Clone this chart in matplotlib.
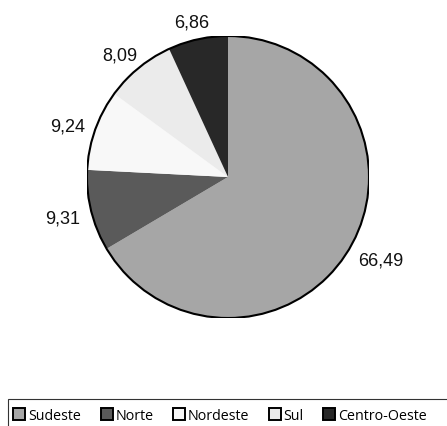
import numpy as np
import matplotlib
matplotlib.use("Agg")
import matplotlib.pyplot as plt
from matplotlib.patches import Rectangle
from matplotlib.lines import Line2D

regions = ["Sudeste", "Norte", "Nordeste", "Sul", "Centro-Oeste"]
values = [66.49, 9.31, 9.24, 8.09, 6.86]
colors = ["#a6a6a6", "#5a5a5a", "#f8f8f8", "#ebebeb", "#282828"]
value_labels = ["66,49", "9,31", "9,24", "8,09", "6,86"]

W, H = 447, 427
fig = plt.figure(figsize=(W / 100, H / 100), dpi=100)

cx, cy, r = 228, 178, 141
ax = fig.add_axes([(cx - r) / W, (H - cy - r) / H, 2 * r / W, 2 * r / H])
wedges, _ = ax.pie(values, colors=colors, startangle=90, counterclock=False,
                   radius=1, wedgeprops=dict(linewidth=0))
circle = plt.Circle((0, 0), 1, fill=False, edgecolor="black", linewidth=1.5)
ax.add_patch(circle)
ax.set_xlim(-1, 1)
ax.set_ylim(-1, 1)
ax.set_aspect("equal")
ax.axis("off")

# data labels placed just outside the wedge, Excel-style
renderer = fig.canvas.get_renderer()
gap = 0.085
for w, lab in zip(wedges, value_labels):
    ang = np.deg2rad((w.theta1 + w.theta2) / 2)
    ux, uy = np.cos(ang), np.sin(ang)
    t = ax.text(0, 0, lab, ha="center", va="center", fontsize=13,
                family="Liberation Sans", color="#111111")
    bb = t.get_window_extent(renderer)
    tw, th = bb.width / r, bb.height / r
    t.set_position(((1 + gap) * ux + tw / 2 * ux, (1 + gap) * uy + th / 2 * uy - 0.02))

# legend frame (extends past the figure edge)
fig.patches.append(Rectangle((8 / W, -0.1), 1.0, (H - 400) / H + 0.1,
                             transform=fig.transFigure, fill=False,
                             edgecolor="#333333", linewidth=0.8))

handles = [Line2D([0], [0], marker="s", linestyle="none", markersize=9.2,
                  markerfacecolor=c, markeredgecolor="black", markeredgewidth=1.4)
           for c in colors]
leg = fig.legend(handles, regions, loc="center left",
                 bbox_to_anchor=(13 / W, (H - 417) / H), ncol=5, frameon=False,
                 handlelength=0.9, handletextpad=0.15, columnspacing=1.35,
                 borderpad=0, borderaxespad=0,
                 prop=dict(family="Open Sans", size=10.3))

fig.savefig("out.png", dpi=100)
